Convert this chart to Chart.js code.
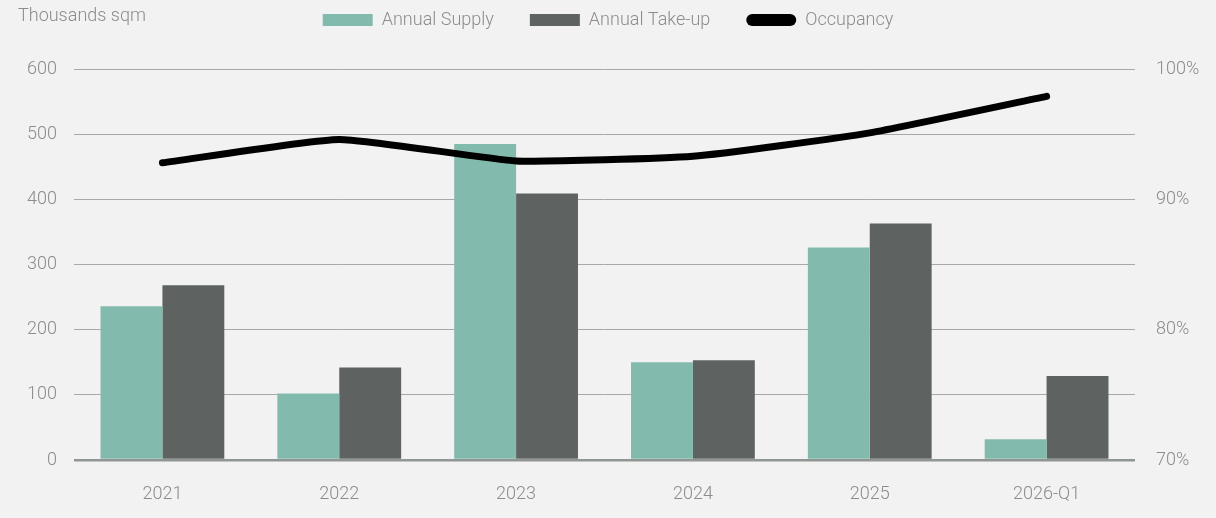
<!DOCTYPE html>
<html>
<head>
<meta charset="utf-8">
<script src="https://cdn.jsdelivr.net/npm/chart.js@4"></script>
<style>
  html, body { margin: 0; padding: 0; background: #f2f2f2; }
  #wrap { width: 1216px; height: 518px; }
</style>
</head>
<body>
<div id="wrap"><canvas id="myChart" width="1216" height="518"></canvas></div>
<script>
// Data
const years = ["2021", "2022", "2023", "2024", "2025", "2026-Q1"];
const annualSupply = [236, 102, 485, 150, 326, 32];
const annualTakeUp = [268, 142, 409, 153, 363, 129];
const occupancy = [92.8, 94.6, 92.95, 93.3, 95.1, 97.9];
const leftTicks = [0, 100, 200, 300, 400, 500, 600];
const rightTicks = ["70%", "80%", "90%", "100%"];

const grey = "#8c8c8c";
const font = { family: "Roboto", size: 18, weight: "300" };

// unit label in the top-left corner
const unitLabel = {
  id: "unitLabel",
  afterDraw(chart) {
    const c = chart.ctx;
    c.save();
    c.font = "300 18px Roboto";
    c.fillStyle = grey;
    c.textBaseline = "middle";
    c.fillText("Thousands sqm", 18, 16);
    c.restore();
  },
  afterLayout(chart) {
    // pull the legend row up to the top edge
    chart.legend.top = -25;
  }
};

const ctx = document.getElementById("myChart").getContext("2d");

const chart = new Chart(ctx, {
  type: "bar",
  data: {
    labels: years,
    datasets: [
      {
        label: "Annual Supply",
        data: annualSupply,
        backgroundColor: "#82bbad",
        yAxisID: "y",
        order: 1,
      },
      {
        label: "Annual Take-up",
        data: annualTakeUp,
        backgroundColor: "#5e6361",
        yAxisID: "y",
        order: 2,
      },
      {
        type: "line",
        label: "Occupancy",
        data: occupancy,
        borderColor: "#000",
        backgroundColor: "#000",
        borderWidth: 7,
        borderCapStyle: "round",
        pointRadius: 0,
        tension: 0.15,
        yAxisID: "y1",
        order: 0,
      },
    ],
  },
  options: {
    responsive: false,
    animation: false,
    layout: { padding: { top: 5, bottom: 0, left: 0, right: 0 } },
    datasets: {
      bar: { categoryPercentage: 0.7, barPercentage: 1.0 },
    },
    plugins: {
      tooltip: { enabled: false },
      legend: {
        position: "top",
        align: "center",
        labels: {
          color: grey,
          font: font,
          boxWidth: 50,
          boxHeight: 12,
          padding: 36,
          sort: (a, b) => a.datasetIndex - b.datasetIndex,
          generateLabels(chart) {
            const items = Chart.defaults.plugins.legend.labels.generateLabels(chart);
            items.forEach((it) => {
              it.lineWidth = 0;
              if (it.text === "Occupancy") {
                it.fillStyle = "#000";
                it.borderRadius = 6;
              }
            });
            return items;
          },
        },
      },
    },
    scales: {
      x: {
        grid: { display: false },
        border: { display: false },
        ticks: { color: grey, font: font, padding: 16 },
        afterFit(scale) { scale.height = 58; },
      },
      y: {
        position: "left",
        min: 0,
        max: 600,
        afterBuildTicks(scale) {
          scale.ticks = leftTicks.map((v) => ({ value: v }));
        },
        grid: {
          drawTicks: false,
          color: (c) => (c.tick.value === 0 ? "#8f9693" : "#a8a8a8"),
          lineWidth: (c) => (c.tick.value === 0 ? 2.5 : 1),
        },
        border: { display: false },
        ticks: { color: grey, font: font, padding: 17 },
        afterFit(scale) { scale.width = 74; },
      },
      y1: {
        position: "right",
        min: 70,
        max: 100,
        ticks: {
          stepSize: 5,
          color: grey,
          font: font,
          padding: 13,
          callback: (v) => (rightTicks.includes(v + "%") ? v + "%" : ""),
        },
        grid: { display: false },
        border: { display: false },
        afterFit(scale) { scale.width = 81; },
      },
    },
  },
  plugins: [unitLabel],
});
</script>
</body>
</html>
